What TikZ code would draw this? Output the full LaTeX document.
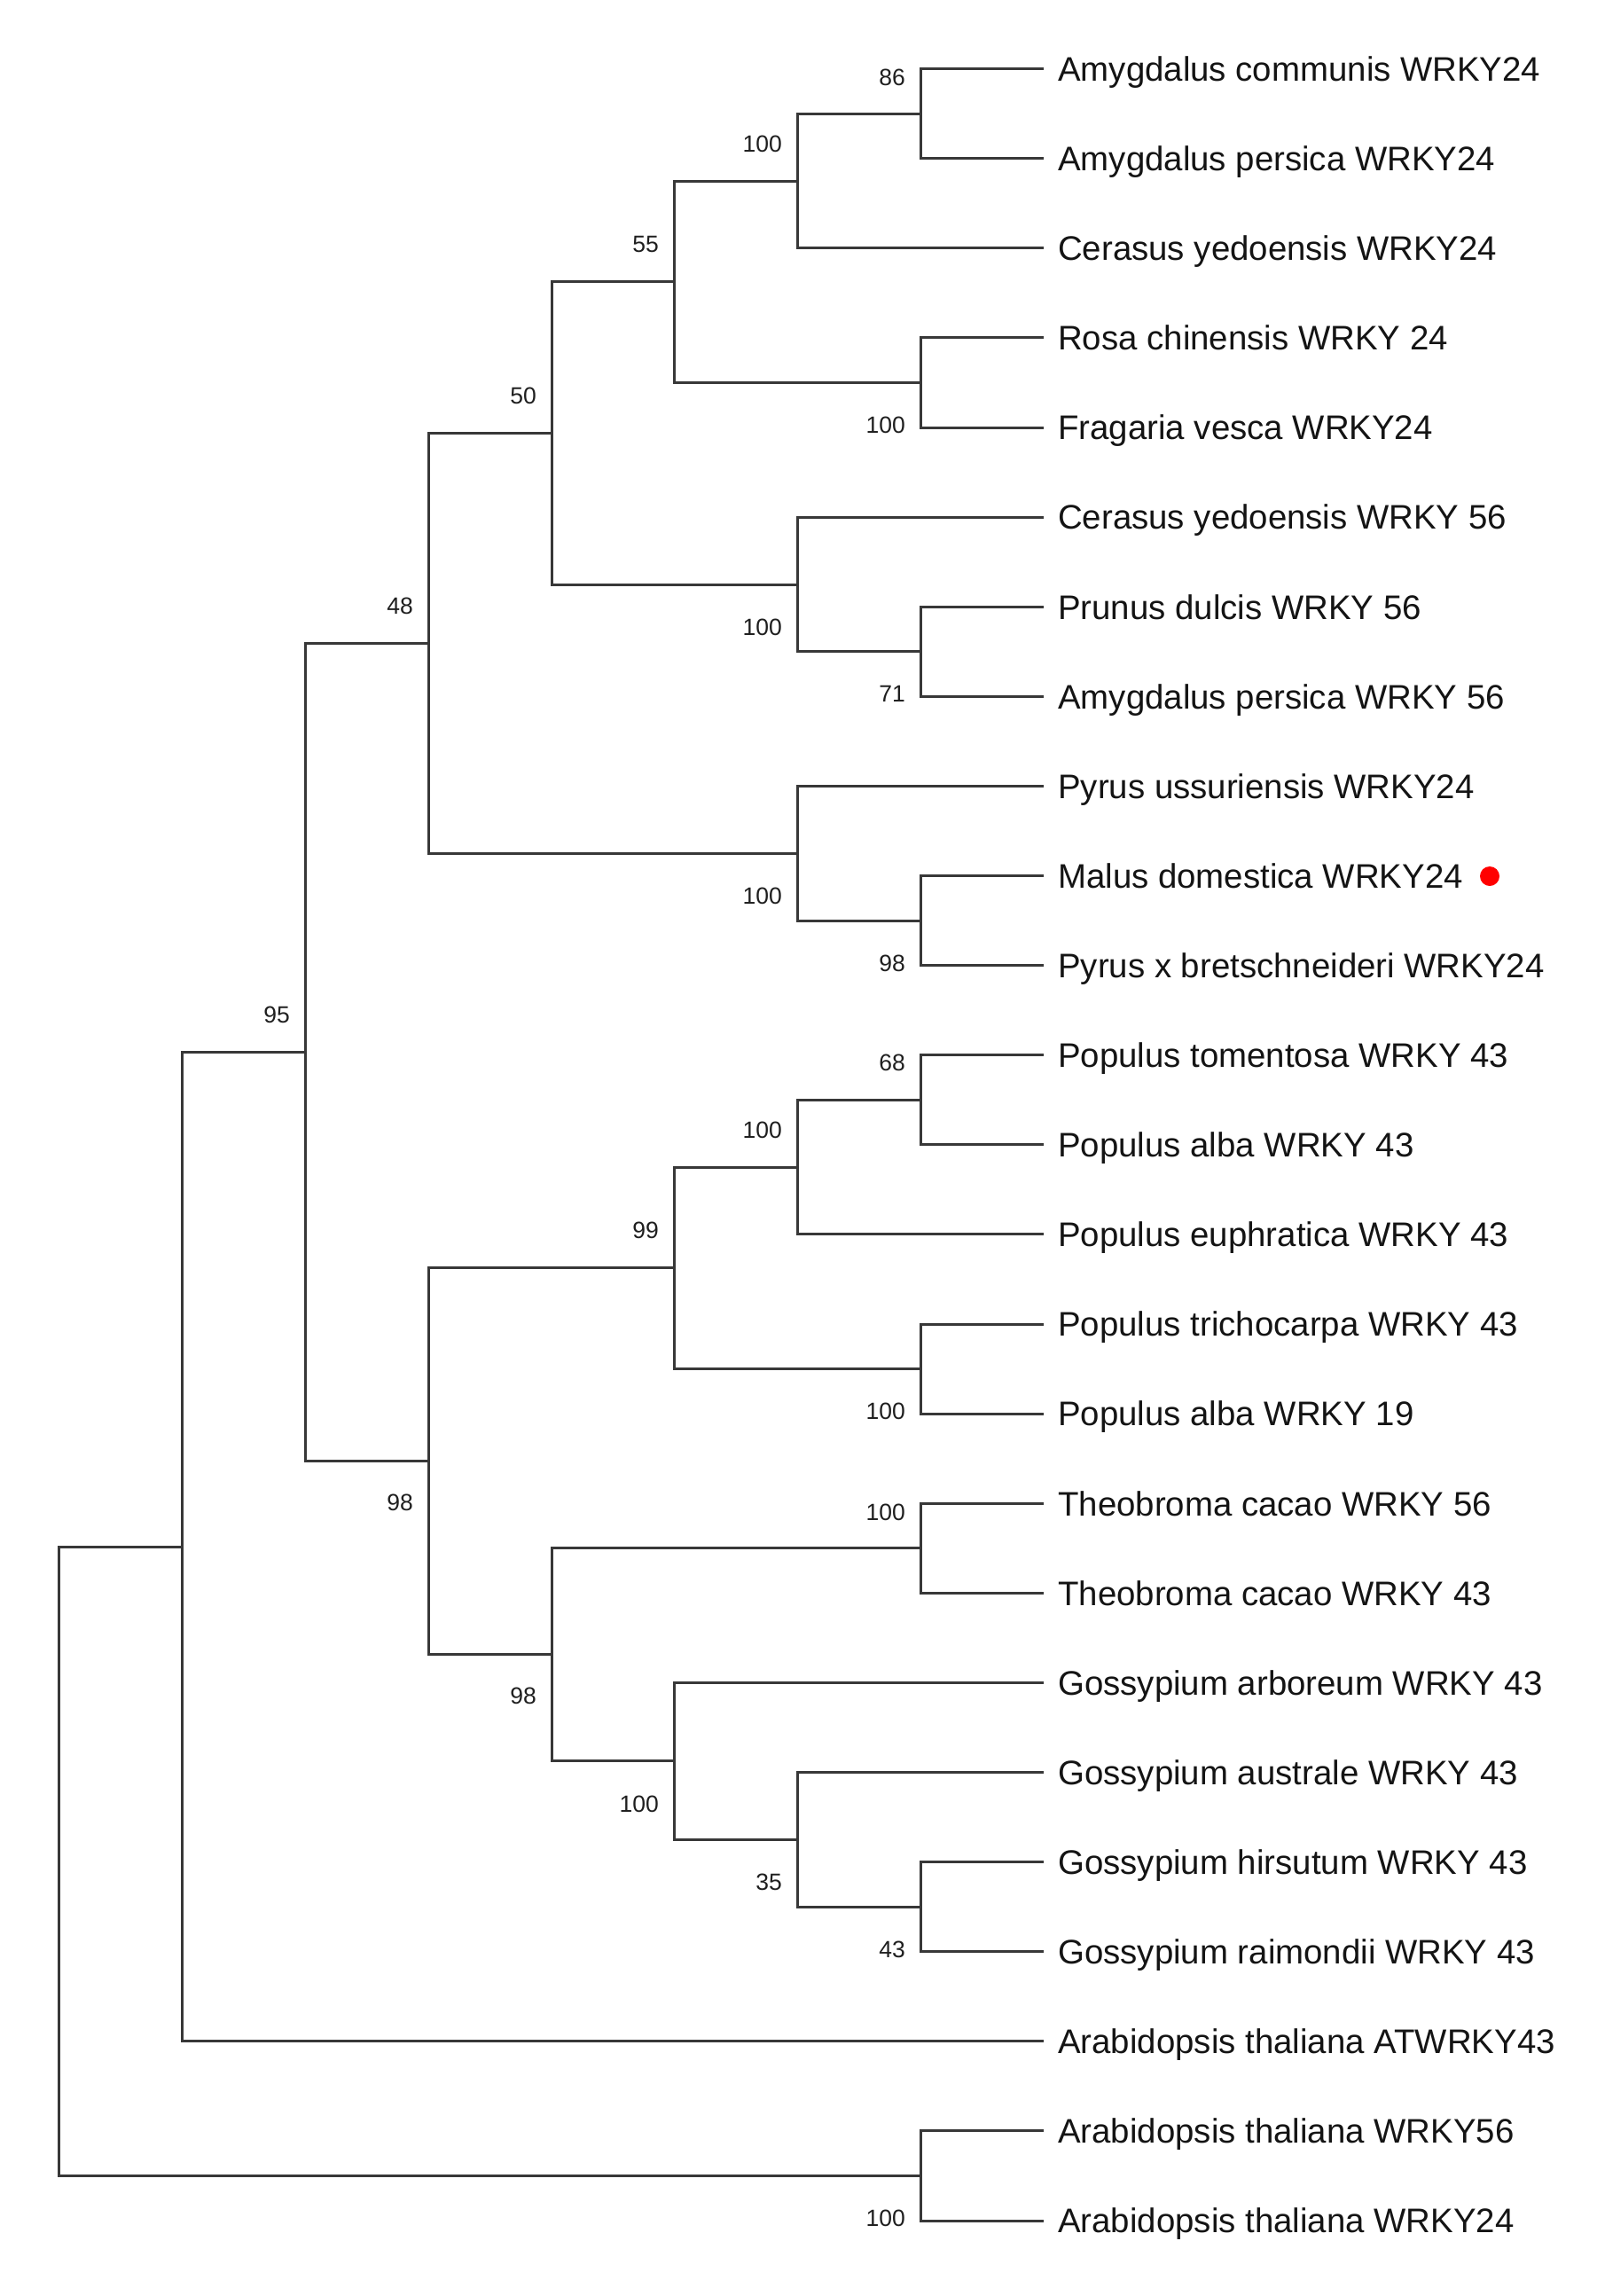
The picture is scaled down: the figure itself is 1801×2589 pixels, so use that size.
\documentclass[tikz,border=0pt]{standalone}
\usepackage{fontspec}
\setmainfont{Liberation Sans}
\begin{document}
\begin{tikzpicture}[x=1pt,y=-1pt,
  br/.style={draw=black!78,line width=3pt},
  leaf/.style={anchor=base west,inner sep=0pt,text=black!92,font=\fontsize{38.4}{40}\selectfont},
  bs/.style={anchor=east,inner sep=0pt,text=black!88,font=\fontsize{26.5}{28}\selectfont},
  reddot/.style={circle,fill=red,inner sep=0pt,minimum size=22pt}]
\useasboundingbox[fill=white] (0,0) rectangle (1801,2589);
% leaf tips
\foreach \n/\i in {t0/0,t1/1,t2/2,t3/3,t4/4,t5/5,t6/6,t7/7,t8/8,t9/9,t10/10,t11/11,t12/12,t13/13,t14/14,t15/15,t16/16,t17/17,t18/18,t19/19,t20/20,t21/21,t22/22,t23/23,t24/24}
  \coordinate (\n) at (1177,{77.6+101.1*\i});
% internal nodes
\coordinate (K) at (1038,128.2);
\coordinate (I) at (899,204.0);
\coordinate (J) at (1038,431.5);
\coordinate (G) at (760,317.7);
\coordinate (L) at (1038,734.8);
\coordinate (H) at (899,659.0);
\coordinate (E) at (622,488.4);
\coordinate (M) at (1038,1038.0);
\coordinate (F) at (899,962.2);
\coordinate (C) at (483,725.3);
\coordinate (R) at (1038,1240.2);
\coordinate (P) at (899,1316.1);
\coordinate (Q) at (1038,1543.5);
\coordinate (N) at (760,1429.8);
\coordinate (S) at (1038,1745.8);
\coordinate (V) at (1038,2150.2);
\coordinate (U) at (899,2074.3);
\coordinate (T) at (760,1985.9);
\coordinate (O) at (622,1865.8);
\coordinate (D) at (483,1647.8);
\coordinate (B) at (344,1186.5);
\coordinate (A) at (205,1744.2);
\coordinate (W) at (1038,2453.5);
\coordinate (root) at (66,2098.8);
% branches
\foreach \p/\c in {K/t0,K/t1,I/K,I/t2,J/t3,J/t4,G/I,G/J,L/t6,L/t7,H/t5,H/L,E/G,E/H,
  M/t9,M/t10,F/t8,F/M,C/E,C/F,R/t11,R/t12,P/R,P/t13,Q/t14,Q/t15,N/P,N/Q,
  S/t16,S/t17,V/t20,V/t21,U/t19,U/V,T/t18,T/U,O/S,O/T,D/N,D/O,B/C,B/D,
  A/B,A/t22,W/t23,W/t24,root/A,root/W}
  \draw[br] (\p) |- (\c);
% leaf labels
\node[leaf] (L0) at ([xshift=16pt,yshift=-13.8pt]t0) {Amygdalus communis WRKY24};
\node[leaf] (L1) at ([xshift=16pt,yshift=-13.8pt]t1) {Amygdalus persica WRKY24};
\node[leaf] (L2) at ([xshift=16pt,yshift=-13.8pt]t2) {Cerasus yedoensis WRKY24};
\node[leaf] (L3) at ([xshift=16pt,yshift=-13.8pt]t3) {Rosa chinensis WRKY 24};
\node[leaf] (L4) at ([xshift=16pt,yshift=-13.8pt]t4) {Fragaria vesca WRKY24};
\node[leaf] (L5) at ([xshift=16pt,yshift=-13.8pt]t5) {Cerasus yedoensis WRKY 56};
\node[leaf] (L6) at ([xshift=16pt,yshift=-13.8pt]t6) {Prunus dulcis WRKY 56};
\node[leaf] (L7) at ([xshift=16pt,yshift=-13.8pt]t7) {Amygdalus persica WRKY 56};
\node[leaf] (L8) at ([xshift=16pt,yshift=-13.8pt]t8) {Pyrus ussuriensis WRKY24};
\node[leaf] (L9) at ([xshift=16pt,yshift=-13.8pt]t9) {Malus domestica WRKY24};
\node[leaf] (L10) at ([xshift=16pt,yshift=-13.8pt]t10) {Pyrus x bretschneideri WRKY24};
\node[leaf] (L11) at ([xshift=16pt,yshift=-13.8pt]t11) {Populus tomentosa WRKY 43};
\node[leaf] (L12) at ([xshift=16pt,yshift=-13.8pt]t12) {Populus alba WRKY 43};
\node[leaf] (L13) at ([xshift=16pt,yshift=-13.8pt]t13) {Populus euphratica WRKY 43};
\node[leaf] (L14) at ([xshift=16pt,yshift=-13.8pt]t14) {Populus trichocarpa WRKY 43};
\node[leaf] (L15) at ([xshift=16pt,yshift=-13.8pt]t15) {Populus alba WRKY 19};
\node[leaf] (L16) at ([xshift=16pt,yshift=-13.8pt]t16) {Theobroma cacao WRKY 56};
\node[leaf] (L17) at ([xshift=16pt,yshift=-13.8pt]t17) {Theobroma cacao WRKY 43};
\node[leaf] (L18) at ([xshift=16pt,yshift=-13.8pt]t18) {Gossypium arboreum WRKY 43};
\node[leaf] (L19) at ([xshift=16pt,yshift=-13.8pt]t19) {Gossypium australe WRKY 43};
\node[leaf] (L20) at ([xshift=16pt,yshift=-13.8pt]t20) {Gossypium hirsutum WRKY 43};
\node[leaf] (L21) at ([xshift=16pt,yshift=-13.8pt]t21) {Gossypium raimondii WRKY 43};
\node[leaf] (L22) at ([xshift=16pt,yshift=-13.8pt]t22) {Arabidopsis thaliana ATWRKY43};
\node[leaf] (L23) at ([xshift=16pt,yshift=-13.8pt]t23) {Arabidopsis thaliana WRKY56};
\node[leaf] (L24) at ([xshift=16pt,yshift=-13.8pt]t24) {Arabidopsis thaliana WRKY24};
% red marker
\node[reddot] (mark) at (1680,988) {};
% bootstrap values
\node[bs] (bK) at ([xshift=-17pt,yshift=41pt]K) {86};
\node[bs] (bI) at ([xshift=-17pt,yshift=42pt]I) {100};
\node[bs] (bJ) at ([xshift=-17pt,yshift=-48pt]J) {100};
\node[bs] (bG) at ([xshift=-17pt,yshift=42pt]G) {55};
\node[bs] (bL) at ([xshift=-17pt,yshift=-48pt]L) {71};
\node[bs] (bH) at ([xshift=-17pt,yshift=-48pt]H) {100};
\node[bs] (bE) at ([xshift=-17pt,yshift=42pt]E) {50};
\node[bs] (bM) at ([xshift=-17pt,yshift=-48pt]M) {98};
\node[bs] (bF) at ([xshift=-17pt,yshift=-48pt]F) {100};
\node[bs] (bC) at ([xshift=-17pt,yshift=42pt]C) {48};
\node[bs] (bR) at ([xshift=-17pt,yshift=42pt]R) {68};
\node[bs] (bP) at ([xshift=-17pt,yshift=42pt]P) {100};
\node[bs] (bQ) at ([xshift=-17pt,yshift=-48pt]Q) {100};
\node[bs] (bN) at ([xshift=-17pt,yshift=42pt]N) {99};
\node[bs] (bS) at ([xshift=-17pt,yshift=40pt]S) {100};
\node[bs] (bV) at ([xshift=-17pt,yshift=-48pt]V) {43};
\node[bs] (bU) at ([xshift=-17pt,yshift=-48pt]U) {35};
\node[bs] (bT) at ([xshift=-17pt,yshift=-48pt]T) {100};
\node[bs] (bO) at ([xshift=-17pt,yshift=-47pt]O) {98};
\node[bs] (bD) at ([xshift=-17pt,yshift=-47pt]D) {98};
\node[bs] (bB) at ([xshift=-17pt,yshift=42pt]B) {95};
\node[bs] (bW) at ([xshift=-17pt,yshift=-48pt]W) {100};
\end{tikzpicture}
\end{document}
